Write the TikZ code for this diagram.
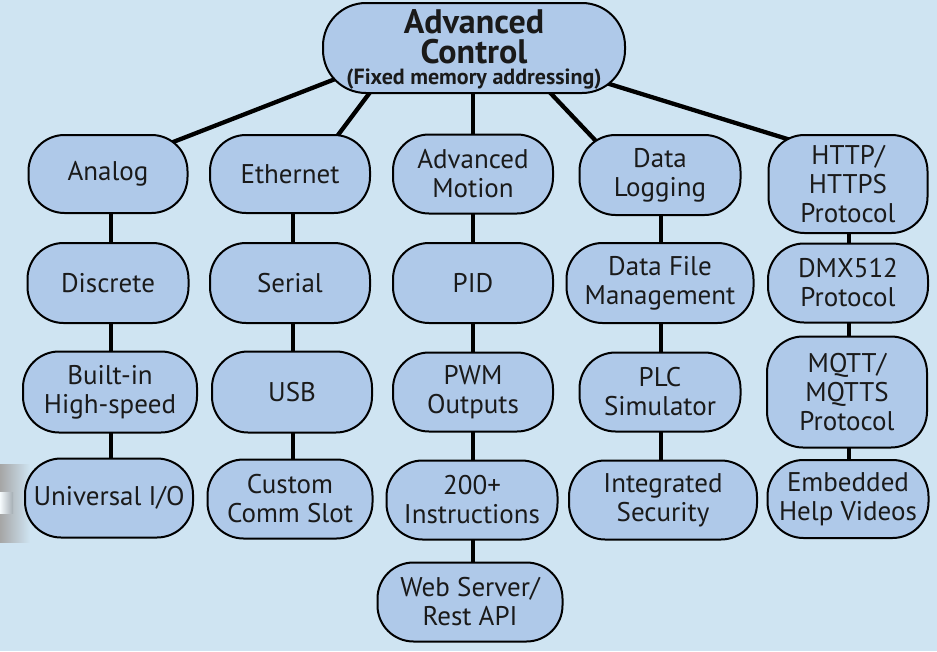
\documentclass[tikz,border=0pt]{standalone}
\usepackage{fontspec}
\setmainfont{PT Sans}
\definecolor{bgc}{HTML}{CFE4F2}
\definecolor{nodefill}{HTML}{AFC9E9}
\definecolor{textc}{HTML}{1A1A1A}
\pgfdeclarelayer{bg}
\pgfdeclarelayer{edges}
\pgfsetlayers{bg,edges,main}
\begin{document}
\begin{tikzpicture}[x=1pt,y=-1pt,
  box/.style={draw=black, line width=2pt, fill=nodefill, rounded corners=36pt,
    inner sep=0pt, align=center, text=textc,
    font=\fontsize{27}{29}\selectfont},
  topbox/.style={box, rounded corners=43pt, font=\fontsize{34}{30}\selectfont\bfseries},
  conn/.style={line width=4.3pt, draw=black},
  vconn/.style={line width=4pt, draw=black}]
\begin{pgfonlayer}{bg}
  \fill[bgc] (0,0) rectangle (937,651);
  \shade[left color=gray!70, right color=bgc] (0,464) rectangle (30,542);
  \shade[left color=white!80!bgc, right color=gray!55!bgc] (0,492) rectangle (13,513);
\end{pgfonlayer}
\useasboundingbox (0,0) rectangle (937,651);

% top
\node[topbox, minimum width=302pt, minimum height=90pt] (top) at (474,48) {};
\node[text=textc, align=center, inner sep=0pt, font=\fontsize{34}{30}\selectfont\bfseries] (toptext) at ([yshift=-1pt]top.center)
  {Advanced\\ Control\\[-9pt]
   {\fontsize{22}{20}\selectfont\bfseries (Fixed memory addressing)}};

% column 1
\node[box, minimum width=159pt, minimum height=78pt] (analog) at (108,174) {Analog};
\node[box, minimum width=161pt, minimum height=80pt] (discrete) at (108,283) {Discrete};
\node[box, minimum width=174pt, minimum height=81pt] (builtin) at (110,392) {Built-in\\High-speed};
\node[box, minimum width=168pt, minimum height=79pt] (universal) at (109,498) {Universal I/O};
% column 2
\node[box, minimum width=160pt, minimum height=78pt] (ethernet) at (290,174) {Ethernet};
\node[box, minimum width=160pt, minimum height=80pt] (serial) at (290,283) {Serial};
\node[box, minimum width=160pt, minimum height=81pt] (usb) at (292,392) {USB};
\node[box, minimum width=165pt, minimum height=79pt] (custom) at (290,499) {Custom\\Comm Slot};
% column 3
\node[box, minimum width=160pt, minimum height=79pt] (motion) at (473,174) {Advanced\\Motion};
\node[box, minimum width=160pt, minimum height=80pt] (pid) at (473,283) {PID};
\node[box, minimum width=160pt, minimum height=79pt] (pwm) at (473,392) {PWM\\Outputs};
\node[box, minimum width=171pt, minimum height=79pt] (instr) at (472,500) {200+\\Instructions};
\node[box, minimum width=185pt, minimum height=79pt] (web) at (470,602) {Web Server/\\Rest API};
% column 4
\node[box, minimum width=161pt, minimum height=80pt] (logging) at (660,175) {Data\\Logging};
\node[box, minimum width=187pt, minimum height=80pt] (dfm) at (660,283) {Data File\\Management};
\node[box, minimum width=161pt, minimum height=79pt] (plc) at (660,392) {PLC\\Simulator};
\node[box, minimum width=188pt, minimum height=79pt] (security) at (663,500) {Integrated\\Security};
% column 5
\node[box, minimum width=159pt, minimum height=98pt] (http) at (848,184) {HTTP/\\HTTPS\\Protocol};
\node[box, minimum width=160pt, minimum height=79pt] (dmx) at (848,283) {DMX512\\Protocol};
\node[box, minimum width=160pt, minimum height=111pt] (mqtt) at (847,392) {MQTT/\\MQTTS\\Protocol};
\node[box, minimum width=161pt, minimum height=78pt] (embedded) at (848,499) {Embedded\\Help Videos};

\begin{pgfonlayer}{edges}
  \draw[conn] ([shift={(-113,21)}]top.center) -- ([shift={(42,-23)}]analog.center);
  \draw[conn] ([shift={(-94,31)}]top.center) -- ([shift={(36,-23)}]ethernet.center);
  \draw[conn] ([shift={(-1,10)}]top.center) -- ([shift={(0,-10)}]motion.center);
  \draw[conn] ([shift={(66,34)}]top.center) -- ([shift={(-48,-17)}]logging.center);
  \draw[conn] ([shift={(116,30)}]top.center) -- ([shift={(-38,-38)}]http.center);
  % verticals
  \draw[vconn] ([xshift=3pt]analog.center) -- ([xshift=3pt]discrete.center);
  \draw[vconn] ([xshift=3pt]discrete.center) -- ([xshift=1pt]builtin.center);
  \draw[vconn] ([xshift=1pt]builtin.center) -- ([xshift=2pt]universal.center);
  \draw[vconn] ([xshift=3pt]ethernet.center) -- ([xshift=3pt]serial.center);
  \draw[vconn] ([xshift=3pt]serial.center) -- ([xshift=1pt]usb.center);
  \draw[vconn] ([xshift=1pt]usb.center) -- ([xshift=3pt]custom.center);
  \draw[vconn] (motion.center) -- (pid.center);
  \draw[vconn] (pid.center) -- (pwm.center);
  \draw[vconn] (pwm.center) -- ([xshift=1pt]instr.center);
  \draw[vconn] ([xshift=1pt]instr.center) -- ([xshift=3pt]web.center);
  \draw[vconn] ([xshift=1pt]logging.center) -- ([xshift=1pt]dfm.center);
  \draw[vconn] ([xshift=1pt]dfm.center) -- ([xshift=1pt]plc.center);
  \draw[vconn] ([xshift=1pt]plc.center) -- ([xshift=-2pt]security.center);
  \draw[vconn] ([xshift=1pt]http.center) -- ([xshift=1pt]dmx.center);
  \draw[vconn] ([xshift=1pt]dmx.center) -- ([xshift=2pt]mqtt.center);
  \draw[vconn] ([xshift=2pt]mqtt.center) -- ([xshift=1pt]embedded.center);
\end{pgfonlayer}
\end{tikzpicture}
\end{document}
